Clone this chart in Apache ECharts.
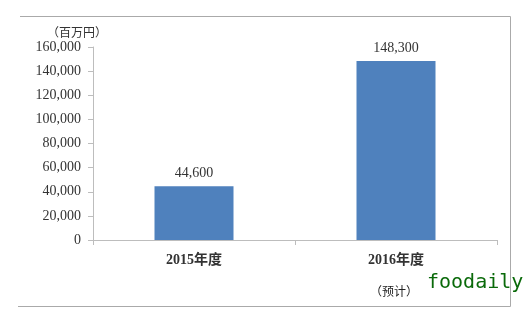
<!DOCTYPE html>
<html><head><meta charset="utf-8">
<script src="https://cdn.jsdelivr.net/npm/echarts@6/dist/echarts.min.js"></script>
<style>html,body{margin:0;padding:0;background:#fff}#c{width:532px;height:322px}</style>
</head><body><div id="c"></div>
<script>
var categories = ['2015年度', '2016年度'];
var values = [44600, 148300];
var unitLabel = '（百万円）';
var watermarkNote = '（预计）';
var watermark = 'foodaily';

var chart = echarts.init(document.getElementById('c'));
var serif = '"Liberation Serif","DejaVu Serif","Noto Sans CJK SC",serif';
chart.setOption({
  animation: false,
  grid: {left: 93, right: 35, top: 47, bottom: 82},
  xAxis: {
    type: 'category', data: categories,
    axisLine: {lineStyle: {color: '#bdbdbd'}},
    axisTick: {show: true, alignWithLabel: false, length: 5, inside: false, lineStyle: {color: '#bdbdbd'}},
    axisLabel: {color: '#333', fontFamily: serif, fontSize: 14, fontWeight: 'bold', margin: 13}
  },
  yAxis: {
    type: 'value', min: 0, max: 160000, interval: 20000,
    name: unitLabel, nameLocation: 'end', nameGap: 6,
    nameTextStyle: {color: '#333', fontFamily: serif, fontSize: 12, align: 'right', padding: [0, -14, 0, 0]},
    splitLine: {show: false},
    axisLine: {show: true, lineStyle: {color: '#bdbdbd'}},
    axisTick: {show: true, length: 5, lineStyle: {color: '#bdbdbd'}},
    axisLabel: {color: '#333', fontFamily: serif, fontSize: 14, margin: 12,
      formatter: function (v) { return v.toLocaleString('en-US'); }}
  },
  series: [{
    type: 'bar', data: values, barWidth: 79,
    itemStyle: {color: '#4f81bd'},
    label: {show: true, position: 'top', distance: 6, color: '#333', fontFamily: serif, fontSize: 14,
      formatter: function (p) { return p.value.toLocaleString('en-US'); }}
  }],
  graphic: [
    {type: 'line', shape: {x1: 20, y1: 16.5, x2: 510.5, y2: 16.5}, style: {stroke: '#aaa', lineWidth: 1}},
    {type: 'line', shape: {x1: 510.5, y1: 16.5, x2: 510.5, y2: 306.5}, style: {stroke: '#aaa', lineWidth: 1}},
    {type: 'line', shape: {x1: 18, y1: 306.5, x2: 510.5, y2: 306.5}, style: {stroke: '#aaa', lineWidth: 1}},
    {type: 'text', left: 370, top: 283, style: {text: watermarkNote, fill: '#222', font: '12px "Noto Sans CJK SC",sans-serif', backgroundColor: '#fff', padding: [2, 0, 0, 0]}},
    {type: 'text', left: 427, top: 273, style: {text: watermark, fill: '#0a6a0a', font: '20px "DejaVu Sans Mono",monospace'}}
  ]
});
</script></body></html>
